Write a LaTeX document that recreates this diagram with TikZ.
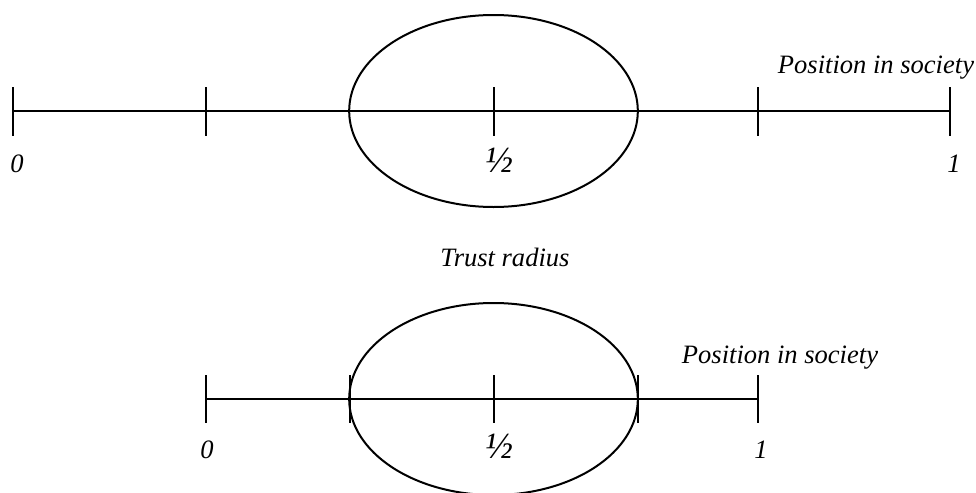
\documentclass[tikz,border=0pt]{standalone}
\usepackage{fontspec}
\setmainfont{Liberation Serif}
\usetikzlibrary{shapes.geometric}
\newcommand{\halfmark}{\scalebox{1.4}{½}}
\begin{document}
\begin{tikzpicture}[x=0.75pt,y=-0.75pt,
  axis/.style={line width=1.5pt},
  tickmark/.style={line width=1.8pt},
  radius/.style={draw, ellipse, line width=1.5pt, minimum width=216.5pt, minimum height=144pt, inner sep=0pt},
  lbl/.style={font=\fontsize{19.9}{22}\selectfont\itshape, anchor=base, inner sep=0pt}]
\useasboundingbox (0,0) rectangle (976,493);
% top scale
\node[radius] (e1) at (493.5,111) {};
\foreach \n/\x in {a/13,b/206,c/494,d/758,e/950}{
  \coordinate (t\n) at (\x,87);
  \coordinate (b\n) at (\x,136);
  \draw[tickmark] (t\n) -- (b\n);
}
\coordinate (L1) at (13,111);
\coordinate (R1) at (950,111);
\draw[axis] (L1) -- (R1);
\node[lbl] (z1) at (17,172) {0};
\node[lbl] (h1) at (499,172) {\halfmark};
\node[lbl] (o1) at (954,172) {1};
\node[lbl] (p1) at (876,73) {Position in society};
\node[lbl] (tr) at (505,266) {Trust radius};
% bottom scale
\node[radius] (e2) at (493.5,399) {};
\foreach \n/\x in {a/206,b/350,c/494,d/638,e/758}{
  \coordinate (u\n) at (\x,375);
  \coordinate (v\n) at (\x,423);
  \draw[tickmark] (u\n) -- (v\n);
}
\coordinate (L2) at (206,399);
\coordinate (R2) at (758,399);
\draw[axis] (L2) -- (R2);
\node[lbl] (z2) at (207,458) {0};
\node[lbl] (h2) at (499,458) {\halfmark};
\node[lbl] (o2) at (761,458) {1};
\node[lbl] (p2) at (780,363) {Position in society};
\end{tikzpicture}
\end{document}
